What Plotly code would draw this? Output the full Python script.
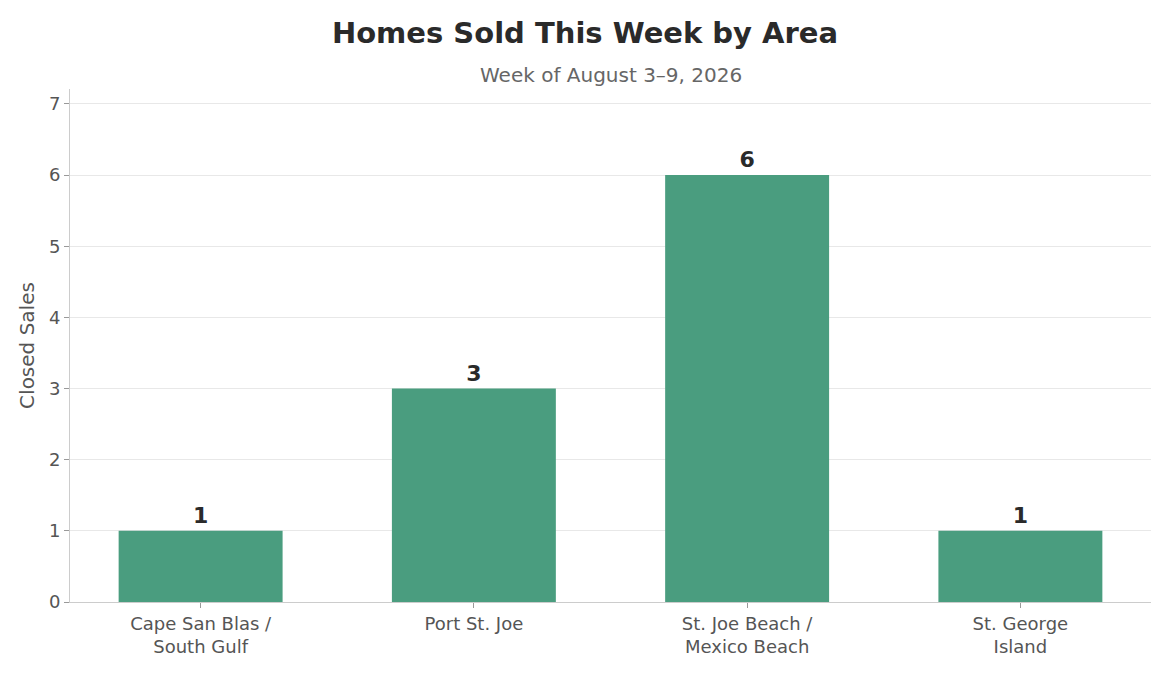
import plotly.graph_objects as go

# Data
areas = ["Cape San Blas /<br>South Gulf", "Port St. Joe", "St. Joe Beach /<br>Mexico Beach", "St. George<br>Island"]
closed_sales = [1, 3, 6, 1]

barColor = "#4a9d7f"
fontName = "DejaVu Sans"

# page body has an 8px margin, so the figure is sized to fit inside it
figW, figH = 1154, 660
mTop, mBot = 81, 58

fig = go.Figure()
fig.add_trace(go.Bar(
    x=areas,
    y=closed_sales,
    width=0.6,
    marker=dict(color=barColor, line=dict(width=0)),
    text=closed_sales,
    textposition="outside",
    textfont=dict(family=fontName, size=22, color="#2a2a2a", weight="bold"),
    cliponaxis=False,
    hoverinfo="x+y"
))

fig.update_layout(
    width=figW,
    height=figH,
    font=dict(family=fontName, color="#555555"),
    plot_bgcolor="white",
    paper_bgcolor="white",
    margin=dict(l=62, r=11, t=mTop, b=mBot),
    showlegend=False,
    title=dict(
        text="<b>Homes Sold This Week by Area</b>",
        x=0.5, xanchor="center",
        y=1 - 25 / figH, yanchor="middle",
        font=dict(family=fontName, size=29, color="#2a2a2a")
    ),
    annotations=[dict(
        text="Week of August 3–9, 2026",
        x=0.5, xref="paper", xanchor="center",
        y=1 + 14 / (figH - mTop - mBot), yref="paper", yanchor="middle",
        showarrow=False,
        font=dict(family=fontName, size=20, color="#666666")
    )]
)

fig.update_xaxes(
    range=[-0.478, 3.478],
    showline=True, linecolor="#cccccc", linewidth=1,
    ticks="outside", tickcolor="#999999", ticklen=5,
    tickfont=dict(size=18, color="#555555"),
    showgrid=False
)
fig.update_yaxes(
    range=[0, 7.21],
    dtick=1,
    showline=True, linecolor="#cccccc", linewidth=1,
    ticks="outside", tickcolor="#999999", ticklen=5,
    tickfont=dict(size=18, color="#555555"),
    gridcolor="#e8e8e8", gridwidth=1,
    zeroline=False,
    title=dict(text="Closed Sales", font=dict(size=20, color="#555555"), standoff=8)
)

fig.write_html("out.html")
